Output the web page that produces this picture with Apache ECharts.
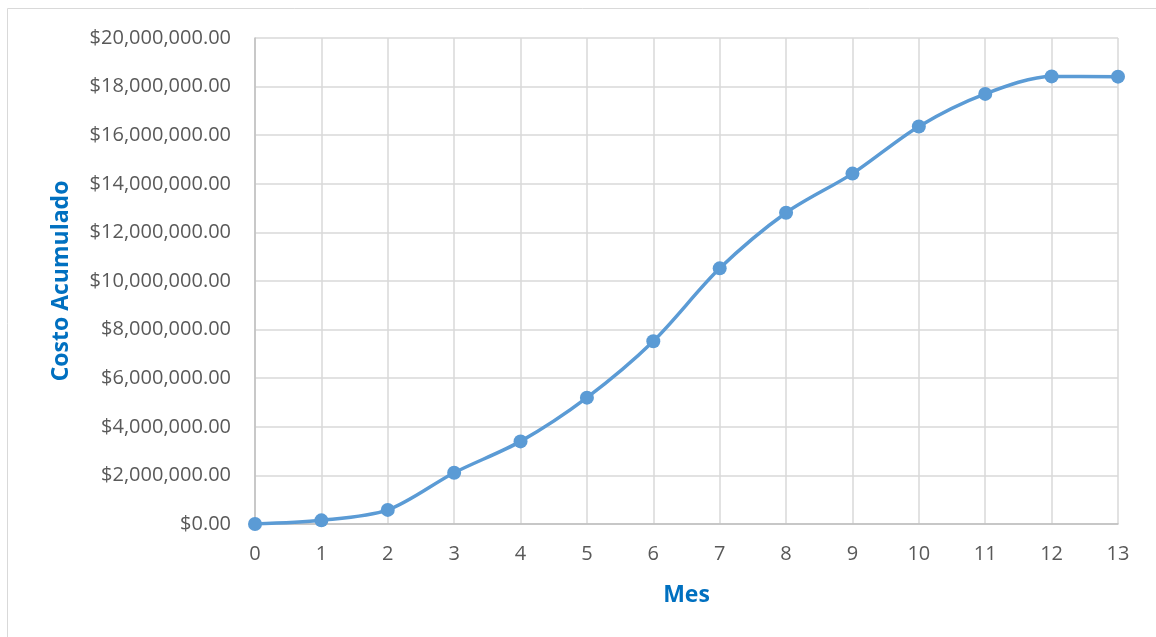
<!DOCTYPE html>
<html><head><meta charset="utf-8">
<script src="https://cdn.jsdelivr.net/npm/echarts@6/dist/echarts.min.js"></script>
<style>html,body{margin:0;padding:0;background:#fff}#c{width:1156px;height:637px}</style>
</head><body><div id="c"></div>
<script>
const meses = ['0','1','2','3','4','5','6','7','8','9','10','11','12','13'];
const costoAcumulado = [0, 150000, 580000, 2110000, 3400000, 5200000, 7520000, 10520000, 12810000, 14420000, 16360000, 17700000, 18420000, 18410000];
const yTicks = {min: 0, max: 20000000, interval: 2000000};

function fmt(v){
  return '$' + v.toLocaleString('en-US',{minimumFractionDigits:2, maximumFractionDigits:2});
}
const chart = echarts.init(document.getElementById('c'));
chart.setOption({
  animation:false,
  graphic:[{type:'rect', shape:{x:7.5,y:8.5,width:1160,height:640}, style:{fill:'none', stroke:'#D9D9D9', lineWidth:1}}],
  grid:{left:255, right:38, top:38, bottom:113},
  xAxis:{type:'category', data:meses, boundaryGap:false,
    name:'Mes', nameLocation:'middle', nameGap:60,
    nameTextStyle:{color:'#0070C0', fontWeight:'bold', fontSize:23, fontFamily:'Open Sans'},
    axisLine:{lineStyle:{color:'#BFBFBF', width:1.5}}, axisTick:{show:false},
    axisLabel:{color:'#595959', fontSize:20, fontFamily:'Open Sans', margin:20},
    splitLine:{show:true, lineStyle:{color:'#D9D9D9', width:1.5}}},
  yAxis:{type:'value', min:yTicks.min, max:yTicks.max, interval:yTicks.interval,
    name:'Costo Acumulado', nameLocation:'middle', nameGap:182, nameRotate:90,
    nameTextStyle:{color:'#0070C0', fontWeight:'bold', fontSize:23, fontFamily:'Open Sans'},
    axisLine:{show:true, lineStyle:{color:'#BFBFBF', width:1.5}}, axisTick:{show:false},
    axisLabel:{color:'#595959', fontSize:20, fontFamily:'Open Sans', margin:24, formatter:fmt},
    splitLine:{lineStyle:{color:'#D9D9D9', width:1.5}}},
  series:[{type:'line', data:costoAcumulado, smooth:0.3,
    symbol:'circle', symbolSize:14,
    lineStyle:{color:'#5B9BD5', width:3.5},
    itemStyle:{color:'#5B9BD5'}}]
});
</script></body></html>
